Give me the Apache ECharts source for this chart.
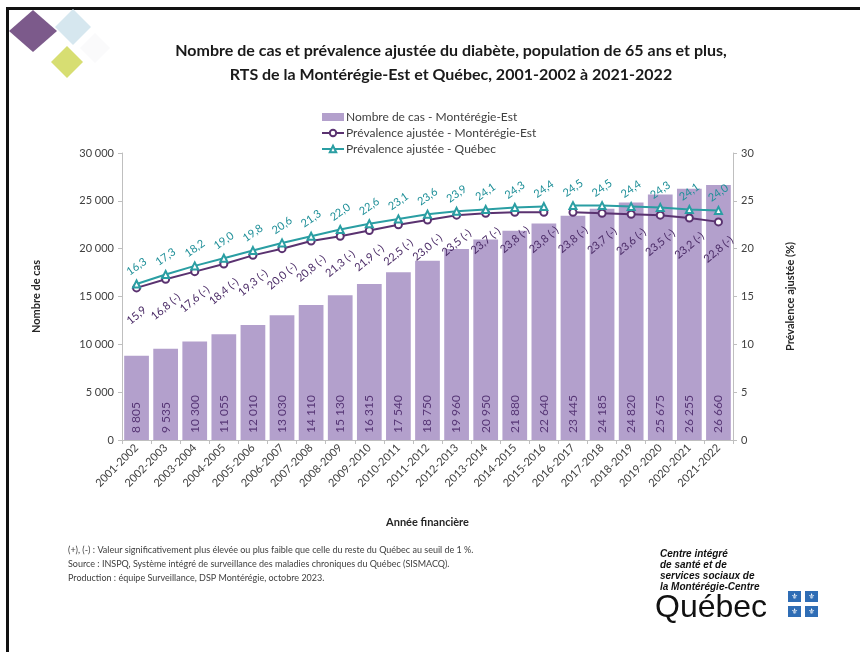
<!DOCTYPE html>
<html>
<head>
<meta charset="utf-8">
<script src="https://cdn.jsdelivr.net/npm/echarts@6/dist/echarts.min.js"></script>
<style>
html,body{margin:0;padding:0;background:#fff;}
#chart{width:860px;height:652px;}
</style>
</head>
<body>
<div id="chart"></div>
<script>
const categories = ['2001-2002','2002-2003','2003-2004','2004-2005','2005-2006','2006-2007','2007-2008','2008-2009','2009-2010','2010-2011','2011-2012','2012-2013','2013-2014','2014-2015','2015-2016','2016-2017','2017-2018','2018-2019','2019-2020','2020-2021','2021-2022'];
const casesME = [8805,9535,10300,11055,12010,13030,14110,15130,16315,17540,18750,19960,20950,21880,22640,23445,24185,24820,25675,26255,26660];
const prevME = [15.9,16.8,17.6,18.4,19.3,20.0,20.8,21.3,21.9,22.5,23.0,23.5,23.7,23.8,23.8,23.8,23.7,23.6,23.5,23.2,22.8];
const prevMESig = ['','(-)','(-)','(-)','(-)','(-)','(-)','(-)','(-)','(-)','(-)','(-)','(-)','(-)','(-)','(-)','(-)','(-)','(-)','(-)','(-)'];
const prevQC = [16.3,17.3,18.2,19.0,19.8,20.6,21.3,22.0,22.6,23.1,23.6,23.9,24.1,24.3,24.4,24.5,24.5,24.4,24.3,24.1,24.0];
const seriesBreakIndex = 15; // series break between 2015-2016 and 2016-2017
const leftAxisTicks = [0,5000,10000,15000,20000,25000,30000];
const rightAxisTicks = [0,5,10,15,20,25,30];

const FONT = 'Lato';
const thousands = v => String(v).replace(/\B(?=(\d{3})+(?!\d))/g, ' ');
const dec = v => v.toFixed(1).replace('.', ',');
const seg = (arr, first) => arr.map((v,i) => (first ? i < seriesBreakIndex : i >= seriesBreakIndex) ? v : null);

const C_BAR = '#b3a0cc', C_ME = '#5a3270', C_QC = '#2a9ea3';
const nameBar = 'Nombre de cas - Montérégie-Est';
const nameME = 'Prévalence ajustée - Montérégie-Est';
const nameQC = 'Prévalence ajustée - Québec';

function meSeries(first){
  return {
    name: nameME, type: 'line', yAxisIndex: 1, data: seg(prevME, first),
    symbol: 'emptyCircle', symbolSize: 7, z: 4,
    itemStyle: {color: C_ME, borderWidth: 1.5},
    lineStyle: {color: C_ME, width: 2},
    label: {show: true, position: 'bottom', distance: 23, rotate: 40, align: 'center', verticalAlign: 'middle',
      color: '#4a2a66', fontSize: 11, fontFamily: FONT,
      formatter: p => dec(p.value) + (prevMESig[p.dataIndex] ? ' ' + prevMESig[p.dataIndex] : '')}
  };
}
function qcSeries(first){
  return {
    name: nameQC, type: 'line', yAxisIndex: 1, data: seg(prevQC, first),
    symbol: 'emptyTriangle', symbolSize: 7, z: 5,
    itemStyle: {color: C_QC, borderWidth: 1.5},
    lineStyle: {color: C_QC, width: 2},
    label: {show: true, position: 'top', distance: 13, rotate: 35, align: 'center', verticalAlign: 'middle',
      color: '#1e8f98', fontSize: 11, fontFamily: FONT,
      formatter: p => dec(p.value)}
  };
}

const chart = echarts.init(document.getElementById('chart'));
const axisLine = {show: true, lineStyle: {color: '#bfbfbf', width: 1}};
chart.setOption({
  backgroundColor: '#fff',
  animation: false,
  textStyle: {fontFamily: FONT},
  title: {
    text: 'Nombre de cas et prévalence ajustée du diabète, population de 65 ans et plus,\nRTS de la Montérégie-Est et Québec, 2001-2002 à 2021-2022',
    left: 446, top: 34, textAlign: 'center',
    textStyle: {fontFamily: FONT, fontSize: 16, fontWeight: 'bold', color: '#1a1a1a', lineHeight: 24}
  },
  legend: {
    orient: 'vertical', left: 316, top: 105, itemWidth: 22, itemHeight: 8, itemGap: 2,
    textStyle: {fontFamily: FONT, fontSize: 12, color: '#404040', lineHeight: 14, padding: [0,0,0,-3]},
    data: [{name: nameBar, icon: 'rect'}, {name: nameME}, {name: nameQC}]
  },
  grid: {left: 122, right: 127, top: 153, bottom: 212, containLabel: false},
  xAxis: {
    type: 'category', data: categories,
    name: 'Année financière', nameLocation: 'middle', nameGap: 77,
    nameTextStyle: {fontFamily: FONT, fontSize: 11, fontWeight: 'bold', color: '#262626'},
    axisLine: axisLine,
    axisTick: {show: true, length: 4, lineStyle: {color: '#bfbfbf'}},
    axisLabel: {rotate: 45, fontSize: 11, color: '#404040', margin: 6, interval: 0}
  },
  yAxis: [{
    type: 'value', min: 0, max: 30000, interval: 5000,
    name: 'Nombre de cas', nameLocation: 'middle', nameGap: 80, nameRotate: 90,
    nameTextStyle: {fontFamily: FONT, fontSize: 11, fontWeight: 'bold', color: '#262626'},
    axisLine: axisLine, axisTick: {show: true, length: 4, lineStyle: {color: '#bfbfbf'}},
    splitLine: {show: false},
    axisLabel: {fontSize: 11, color: '#404040', margin: 8, formatter: v => thousands(v)}
  },{
    type: 'value', min: 0, max: 30, interval: 5, position: 'right',
    name: 'Prévalence ajustée (%)', nameLocation: 'middle', nameGap: 52, nameRotate: 90,
    nameTextStyle: {fontFamily: FONT, fontSize: 11, fontWeight: 'bold', color: '#262626'},
    axisLine: axisLine, axisTick: {show: true, length: 4, lineStyle: {color: '#bfbfbf'}},
    splitLine: {show: false},
    axisLabel: {fontSize: 11, color: '#404040', margin: 8}
  }],
  series: [
    {
      name: nameBar, type: 'bar', yAxisIndex: 0, data: casesME, barCategoryGap: '15%',
      itemStyle: {color: C_BAR},
      label: {show: true, position: 'insideBottom', rotate: 90, align: 'left', verticalAlign: 'middle', distance: 7,
        color: '#573676', fontSize: 12, fontFamily: FONT, formatter: p => thousands(p.value)}
    },
    meSeries(true), meSeries(false), qcSeries(true), qcSeries(false)
  ],
  graphic: [
    {type: 'line', shape: {x1: 6, y1: 8.5, x2: 860, y2: 8.5}, style: {stroke: '#111', lineWidth: 3}},
    {type: 'line', shape: {x1: 7.5, y1: 7, x2: 7.5, y2: 652}, style: {stroke: '#111', lineWidth: 3}},
    {type: 'polygon', shape: {points: [[95,33],[110,48],[95,63],[80,48]]}, style: {fill: '#fafafb'}},
    {type: 'polygon', shape: {points: [[73,9],[91,27],[73,45],[55,27]]}, style: {fill: '#d6e7ef'}},
    {type: 'polygon', shape: {points: [[33,10],[57,31],[33,52],[9,31]]}, style: {fill: '#7c5a8b'}},
    {type: 'polygon', shape: {points: [[67,46],[83,62],[67,78],[51,62]]}, style: {fill: '#d7de72'}},
    {type: 'text', left: 68, top: 543, style: {
      text: '(+), (-) : Valeur significativement plus élevée ou plus faible que celle du reste du Québec au seuil de 1 %.\nSource : INSPQ, Système intégré de surveillance des maladies chroniques du Québec (SISMACQ).\nProduction : équipe Surveillance, DSP Montérégie, octobre 2023.',
      font: '9px Lato', fill: '#404040', lineHeight: 14}},
    {type: 'text', left: 660, top: 549, style: {
      text: 'Centre intégré\nde santé et de\nservices sociaux de\nla Montérégie-Centre',
      font: 'italic bold 10px "Liberation Sans"', fill: '#111', lineHeight: 11}},
    {type: 'text', left: 655, top: 592, style: {text: 'Québec', font: '32px "Liberation Sans"', fill: '#111'}},
    {type: 'rect', shape: {x: 788, y: 591, width: 13, height: 11}, style: {fill: '#2f6db5'}},
    {type: 'rect', shape: {x: 805, y: 591, width: 13, height: 11}, style: {fill: '#2f6db5'}},
    {type: 'rect', shape: {x: 788, y: 606, width: 13, height: 11}, style: {fill: '#2f6db5'}},
    {type: 'rect', shape: {x: 805, y: 606, width: 13, height: 11}, style: {fill: '#2f6db5'}},
    {type: 'text', x: 794.5, y: 596.5, style: {text: '⚜', font: '8px "DejaVu Sans"', fill: '#fff', align: 'center', verticalAlign: 'middle'}},
    {type: 'text', x: 811.5, y: 596.5, style: {text: '⚜', font: '8px "DejaVu Sans"', fill: '#fff', align: 'center', verticalAlign: 'middle'}},
    {type: 'text', x: 794.5, y: 611.5, style: {text: '⚜', font: '8px "DejaVu Sans"', fill: '#fff', align: 'center', verticalAlign: 'middle'}},
    {type: 'text', x: 811.5, y: 611.5, style: {text: '⚜', font: '8px "DejaVu Sans"', fill: '#fff', align: 'center', verticalAlign: 'middle'}}
  ]
});
</script>
</body>
</html>
